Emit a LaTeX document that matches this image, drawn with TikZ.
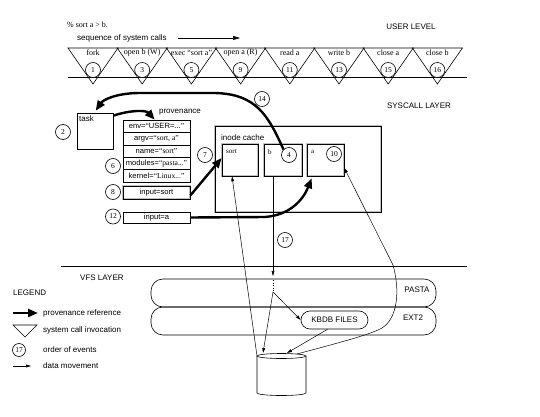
\documentclass[tikz,border=0pt]{standalone}
\usepackage{fontspec}
\setmainfont{Liberation Sans}
\newfontfamily\srf{Liberation Serif}
\usetikzlibrary{arrows.meta}
\begin{document}
\begin{tikzpicture}[x=1pt,y=-1pt,
  lbl/.style={font=\fontsize{8}{9}\selectfont, inner sep=0pt},
  slbl/.style={font=\srf\fontsize{8}{9}\selectfont, inner sep=0pt},
  tlbl/.style={font=\srf\fontsize{7}{8}\selectfont, inner sep=0pt},
  evt/.style={circle, draw, line width=0.6pt, minimum size=15pt, inner sep=0pt, font=\srf\fontsize{7.5}{9}\selectfont},
  prov/.style={line width=2.4pt, -{Triangle[length=10pt,width=8pt]}},
  datam/.style={line width=0.5pt, -{Triangle[length=5pt,width=2.8pt]}},
  boxy/.style={draw, line width=0.6pt, inner sep=0pt},
  shade/.style={preaction={draw=black!25, line width=1.3pt}},
  pbox/.style={boxy, minimum width=67pt, minimum height=12.4pt, font=\fontsize{7.6}{9}\selectfont},
  ibox/.style={boxy, minimum height=32pt},
  band/.style={draw, line width=0.6pt, rounded corners=12pt},
  thin/.style={line width=0.6pt}
]
\useasboundingbox (0,0) rectangle (540,417);

% ---------- user level ----------
\node[slbl, anchor=west] (cmd) at (67,25) {\% sort a > b.};
\node[lbl, anchor=west] (seq) at (77,38) {sequence of system calls};
\coordinate (seqA) at (178,38);
\coordinate (seqB) at (240,38);
\draw[line width=0.6pt, -{Triangle[length=7pt,width=4pt]}] (seqA) -- (seqB);
\node[lbl] (userlevel) at (411,27) {USER LEVEL};

\coordinate (baseL) at (68,77);
\coordinate (baseR) at (467,77);
\draw[thin] (baseL) -- (baseR);
\foreach \lab/\num [count=\i from 0] in {fork/1, open b (W)/3, exec “sort a”/5, open a (R)/9, read a/11, write b/13, close a/15, close b/16}{
  \pgfmathsetmacro{\cx}{93+49.2*\i}
  \draw[thin] (\cx-25,48) -- (\cx+25,48) -- (\cx,84) -- cycle;
  \node[slbl] (call\i) at (\cx,52.5) {\lab};
  \node[evt, fill=white] (ev\num) at (\cx,70) {\num};
}

% ---------- syscall layer ----------
\node[lbl] (syscall) at (419,105.5) {SYSCALL LAYER};

\node[boxy, minimum width=36pt, minimum height=36pt] (task) at (95,131) {};
\node[lbl, anchor=west] (tasklbl) at (79,118.5) {task};
\node[evt] (ev2) at (63,132) {2};

\node[lbl] (provlbl) at (180,112) {provenance};
\node[pbox] (env) at (156.5,126.2) {env=\srf“\normalfont USER=...\srf”};
\node[pbox] (argv) at (156.5,138.6) {argv=\srf“sort, a”};
\node[pbox] (name) at (156.5,151) {name=\srf“sort”};
\node[pbox] (modules) at (156.5,163.4) {modules=\srf“pasta...”};
\node[pbox] (kernel) at (156.5,175.8) {kernel=\srf“Linux...”};
\node[pbox, minimum height=13pt, shade] (isort) at (156.5,192.5) {input=sort};
\node[pbox, minimum height=11pt] (ia) at (156.5,217.5) {input=a};
\node[evt, fill=white] (ev6) at (113,166) {6};
\node[evt, fill=white] (ev8) at (113,192) {8};
\node[evt, fill=white] (ev12) at (113,216.5) {12};

\node[boxy, minimum width=166pt, minimum height=86pt, shade] (cache) at (298,169) {};
\node[lbl, anchor=west] (cachelbl) at (221,137.5) {inode cache};
\node[ibox, minimum width=36pt, shade] (sort) at (240,160) {};
\node[ibox, minimum width=38pt, shade] (b) at (283,160) {};
\node[ibox, minimum width=37pt, shade] (a) at (325.5,160) {};
\node[tlbl, anchor=west] (sortlbl) at (226,152) {sort};
\node[tlbl, anchor=west] (blbl) at (268,152) {b};
\node[tlbl, anchor=west] (albl) at (311,152) {a};
\node[evt, fill=white] (ev4) at (289,155) {4};
\node[evt, fill=white] (ev10) at (334,154) {10};
\node[evt] (ev7) at (205,155) {7};
\node[evt] (ev14) at (262,99) {14};
\node[evt] (ev17) at (285,240) {17};

% provenance arrows
\draw[prov] ([yshift=-3pt]task.north east) .. controls (130,110) and (146,110) .. ([xshift=32pt]env.north west);
\draw[prov] (ev4.north west) .. controls (268,115) and (256,94) .. (215,93) -- (140,93) .. controls (116,93) and (103,100) .. ([xshift=19pt,yshift=2pt]task.north west);
\draw[prov] ([yshift=-3pt]isort.east) -- ([yshift=2pt]sort.west);
\draw[prov] (ia.east) -- (265,217) .. controls (290,215) and (303,200) .. ([xshift=5pt,yshift=-2pt]a.south west);

% ---------- VFS layer ----------
\coordinate (vfsL) at (61,266);
\coordinate (vfsR) at (467,266);
\draw[thin] (vfsL) -- (vfsR);
\node[lbl, anchor=west] (vfslbl) at (80,278) {VFS LAYER};
\draw[band] (151,279) rectangle (436,307);
\draw[band] (151,307) rectangle (436,335);
\node[lbl] (pasta) at (417,290) {PASTA};
\node[lbl] (ext2) at (413,318) {EXT2};
\node[draw, line width=0.6pt, rounded corners=9pt, minimum width=67pt, minimum height=18pt, inner sep=0pt, font=\fontsize{8}{9}\selectfont] (kbdb) at (334.5,320) {KBDB FILES};

% disk
\coordinate (diskTL) at (257,356);
\coordinate (diskTR) at (306,356);
\draw[thin] (281.5,356) ellipse (24.5 and 2.5);
\draw[thin] (diskTL) -- (257,393) arc[start angle=180, end angle=360, x radius=24.5, y radius=-2.5] -- (diskTR);
\coordinate (diskA) at (297,354);
\coordinate (diskB) at (287,353);
\coordinate (diskC) at (263,353);

% data movement
\coordinate (bdown) at (273,276);
\coordinate (dotA) at (273,280);
\coordinate (split) at (273,292);
\draw[datam] (diskTL) -- ([xshift=-8pt]sort.south);
\draw[datam] (b.south -| split) -- (bdown);
\draw[line width=0.5pt, dotted] (dotA) -- (split);
\draw[datam] (split) -- (kbdb.west);
\draw[datam] (split) -- (diskC);
\draw[datam] ([xshift=-7pt]kbdb.south) -- (diskB);
\draw[datam] (diskA) .. controls (330,345) and (370,335) .. (382,328) .. controls (398,318) and (400,290) .. (393,265) -- ([yshift=-8pt]a.east);

% ---------- legend ----------
\node[lbl, anchor=west] (legend) at (13,293) {LEGEND};
\coordinate (lgA1) at (13,313);
\coordinate (lgA2) at (38,313);
\draw[prov] (lgA1) -- (lgA2);
\node[lbl, anchor=west] (lg1) at (43,313) {provenance reference};
\draw[thin] (13,325) -- (37,325) -- (25,337) -- cycle;
\node[lbl, anchor=west] (lg2) at (43,330) {system call invocation};
\node[evt, minimum size=13pt] (lgev) at (19,350) {17};
\node[lbl, anchor=west] (lg3) at (43,350) {order of events};
\coordinate (lgD1) at (13,366);
\coordinate (lgD2) at (31,366);
\draw[datam] (lgD1) -- (lgD2);
\node[lbl, anchor=west] (lg4) at (43,366) {data movement};
\end{tikzpicture}
\end{document}
